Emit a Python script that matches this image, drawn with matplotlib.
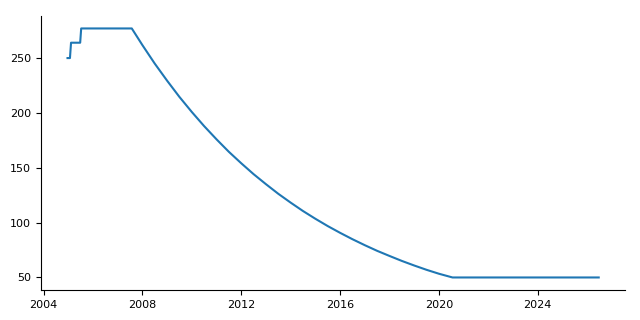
import matplotlib
matplotlib.use("Agg")
import matplotlib.pyplot as plt
import matplotlib.dates as mdates
import pandas as pd

dates = ["2004-12-20", "2005-01-25", "2005-02-10", "2005-06-25", "2005-07-10",
         "2007-07-28",
         "2008-01-01", "2008-07-01", "2009-01-01", "2009-07-01", "2010-01-01",
         "2010-07-01", "2011-01-01", "2011-07-01", "2012-01-01", "2012-07-01",
         "2013-01-01", "2013-07-01", "2014-01-01", "2014-07-01", "2015-01-01",
         "2015-07-01", "2016-01-01", "2016-07-01", "2017-01-01", "2017-07-01",
         "2018-01-01", "2018-07-01", "2019-01-01", "2019-07-01", "2020-01-01",
         "2020-07-20", "2026-06-20"]
values = [250, 250, 264, 264, 277,
          277,
          261.8, 245.0, 229.3, 214.6, 200.8,
          188.0, 175.9, 164.6, 154.1, 144.2,
          135.0, 126.3, 118.2, 110.6, 103.5,
          96.9, 90.7, 84.9, 79.4, 74.3,
          69.6, 65.1, 60.9, 57.0, 53.4,
          50, 50]

x = pd.to_datetime(dates)

fig = plt.figure(figsize=(6.4, 3.2), dpi=100)
ax = fig.add_axes([0.064, 0.094, 0.913, 0.856])
ax.plot(x, values, color="#1f77b4", linewidth=1.5)
ax.spines["top"].set_visible(False)
ax.spines["right"].set_visible(False)
ax.xaxis.set_major_locator(mdates.YearLocator(4))
ax.xaxis.set_major_formatter(mdates.DateFormatter("%Y"))
ax.tick_params(labelsize=8)
fig.savefig("out.png", dpi=100)
